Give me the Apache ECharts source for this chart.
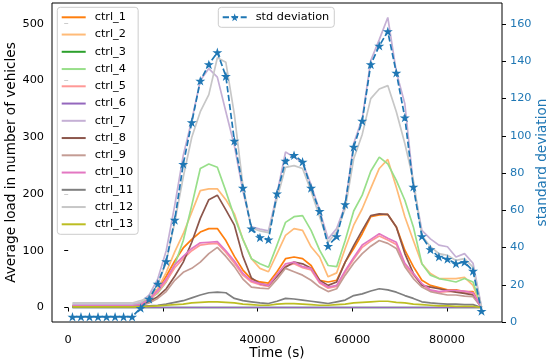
<!DOCTYPE html>
<html>
<head>
<meta charset="utf-8">
<script src="https://cdn.jsdelivr.net/npm/echarts@6/dist/echarts.min.js"></script>
<style>
html,body{margin:0;padding:0;background:#fff;}
#chart{width:550px;height:361px;}
</style>
</head>
<body>
<div id="chart"></div>
<script>
const times = [900, 2700, 4500, 6300, 8100, 9900, 11700, 13500, 15300, 17100, 18900, 20700, 22500, 24300, 26100, 27900, 29700, 31500, 33300, 35100, 36900, 38700, 40500, 42300, 44100, 45900, 47700, 49500, 51300, 53100, 54900, 56700, 58500, 60300, 62100, 63900, 65700, 67500, 69300, 71100, 72900, 74700, 76500, 78300, 80100, 81900, 83700, 85500, 87300];

const ctrl_1 = [2,2,2,2,2,2,2,2, 5,17,32,55,82,105,120,133,139,139, 118,90,66,50,45,43,63,86,89,86, 74,48,45,48,80,104,130,160,163,164, 142,101,72,48,39,35,31,31,28,28, 0];
const ctrl_2 = [4,4,4,4,4,4,4,4, 5,17,33,62,98,130,168,206,209,209, 190,165,120,86,69,63,95,127,139,136, 107,89,54,61,104,145,174,210,245,261, 212,160,118,77,60,51,51,51,53,39, 0];
const ctrl_3 = [0,0,0,0,0,0,0,0, 0,0,0,0,0,0,0,0,0,0, 0,0,0,0,0,0,0,0,0,0, 0,0,0,0,0,0,0,0,0,0, 0,0,0,0,0,0,0,0,0,0, 0];
const ctrl_4 = [4,4,4,4,4,4,4,4, 8,15,25,45,75,118,180,245,253,247, 205,160,120,86,77,71,110,150,160,162, 136,101,74,72,118,170,198,240,265,253, 224,189,142,77,57,51,48,45,51,45, 0];
const ctrl_5 = [3,3,3,3,3,3,3,3, 4,13,27,46,70,86,100,110,112,113, 97,78,57,45,40,37,55,73,77,70, 66,43,34,37,62,85,106,117,126,119, 111,75,57,40,30,27,28,28,27,24, 0];
const ctrl_6 = [0,0,0,0,0,0,0,0, 0,0,0,0,0,0,0,0,0,0, 0,0,0,0,0,0,0,0,0,0, 0,0,0,0,0,0,0,0,0,0, 0,0,0,0,0,0,0,0,0,0, 0];
const ctrl_7 = [6,6,6,6,6,6,6,6, 9,22,50,100,180,268,330,400,421,406, 345,285,205,142,138,135,200,274,265,256, 216,171,121,139,180,289,333,435,472,511, 415,359,216,136,121,110,107,89,95,78, 0];
const ctrl_8 = [2,2,2,2,2,2,2,2, 4,10,19,33,55,80,115,157,190,198, 172,145,90,52,42,39,55,71,80,77, 69,48,39,45,80,109,136,162,165,164, 142,95,60,39,36,33,30,27,25,22, 0];
const ctrl_9 = [2,2,2,2,2,2,2,2, 3,8,16,28,48,62,69,80,95,106, 90,72,50,36,34,33,50,69,63,57, 48,36,28,33,57,78,95,108,118,113, 104,72,51,36,28,25,22,22,20,19, 0];
const ctrl_10 = [3,3,3,3,3,3,3,3, 5,15,30,50,75,90,104,114,115,116, 100,82,60,47,42,39,58,77,80,72, 69,45,36,39,65,88,110,120,130,122, 115,78,60,42,31,28,30,30,29,26, 0];
const ctrl_11 = [1,1,1,1,1,1,1,1, 2,3,4,6,9,12,17,22,26,27, 26,16,12,10,8,7,11,16,15,13, 11,9,7,10,13,21,24,29,33,31, 27,21,16,10,8,7,6,6,5,5, 0];
const ctrl_12 = [8,8,8,8,8,8,8,8, 12,18,40,80,150,230,300,345,375,440, 432,340,215,140,135,132,192,247,250,245, 205,160,115,133,174,262,305,368,385,391, 345,289,224,127,107,95,92,83,86,71, 0];
const ctrl_13 = [1,1,1,1,1,1,1,1, 1,2,3,4,5,6,8,9,10,10, 9,8,6,5,4,4,6,7,7,6, 5,4,4,5,6,8,9,10,11,11, 9,8,6,5,4,3,3,2,2,2, 0];
const stdDev = [2.8,2.8,2.8,2.8,2.8,2.8,2.8,2.8, 7.5,12.4,20.5,32.6,54.8,84.8,107.2,129.5,138.3,144.8, 132,97.3,72,50.2,45.4,44.3,69,86.5,89.6,86, 72,59.5,40.8,46,63.2,94,108,138.3,148.3,156, 133.8,109.8,72.6,46,39,35,33.8,31.4,32.2,27.4, 5.9];

const seriesNames = ['ctrl_1','ctrl_2','ctrl_3','ctrl_4','ctrl_5','ctrl_6','ctrl_7','ctrl_8','ctrl_9','ctrl_10','ctrl_11','ctrl_12','ctrl_13'];
const seriesValues = [ctrl_1,ctrl_2,ctrl_3,ctrl_4,ctrl_5,ctrl_6,ctrl_7,ctrl_8,ctrl_9,ctrl_10,ctrl_11,ctrl_12,ctrl_13];
const seriesColors = ['#ff7f0e','#ffbb78','#2ca02c','#98df8a','#ff9896','#9467bd','#c5b0d5','#8c564b','#c49c94','#e377c2','#7f7f7f','#c7c7c7','#bcbd22'];
const xTicks = [0, 20000, 40000, 60000, 80000];
const yLeftTicks = [0, 100, 200, 300, 400, 500];
const yRightTicks = [0, 20, 40, 60, 80, 100, 120, 140, 160];

const FONT = 'DejaVu Sans';
const STAR = 'path://M50,0L61.23,34.55L97.55,34.55L68.17,55.9L79.39,90.45L50,69.1L20.61,90.45L31.83,55.9L2.45,34.55L38.77,34.55Z';

const pair = vals => times.map((t, i) => [t, vals[i]]);

const series = seriesNames.map((n, k) => ({
  name: n,
  type: 'line',
  xAxisIndex: 0,
  yAxisIndex: 0,
  data: pair(seriesValues[k]),
  symbol: 'none',
  color: seriesColors[k],
  lineStyle: { width: 1.7, color: seriesColors[k] },
  emphasis: { disabled: true },
  silent: true
}));
series.push({
  name: 'std deviation',
  type: 'line',
  xAxisIndex: 0,
  yAxisIndex: 1,
  data: pair(stdDev),
  symbol: STAR,
  symbolSize: 10,
  symbolKeepAspect: true,
  showSymbol: true,
  color: '#1f77b4',
  itemStyle: { color: '#1f77b4' },
  lineStyle: { width: 1.7, color: '#1f77b4', type: [6.3, 2.7] },
  emphasis: { disabled: true },
  silent: true
});

const legendBase = {
  orient: 'vertical',
  backgroundColor: 'rgba(255,255,255,0.8)',
  borderColor: '#cccccc',
  borderWidth: 1,
  borderRadius: 3,
  padding: [3, 5, 3, 3.4],
  itemWidth: 24,
  itemHeight: 10,
  itemGap: 3.25,
  selectedMode: false,
  textStyle: { fontFamily: FONT, fontSize: 11.3, color: '#000', lineHeight: 14, padding: [0, 0, 0, 4] }
};

const option = {
  animation: false,
  backgroundColor: '#fff',
  textStyle: { fontFamily: FONT },
  grid: { left: 52, right: 48, top: 3, bottom: 39, show: true, borderColor: '#000', borderWidth: 1, backgroundColor: 'transparent', containLabel: false, outerBoundsMode: 'none' },
  legend: [
    Object.assign({}, legendBase, { left: 57.3, top: 7.3, data: seriesNames, itemStyle: { opacity: 0 } }),
    Object.assign({}, legendBase, { left: 218.3, top: 7.3, data: ['std deviation'] })
  ],
  xAxis: {
    type: 'value', min: -3420, max: 91620,
    name: 'Time (s)', nameLocation: 'middle', nameGap: 24, nameMoveOverlap: false,
    nameTextStyle: { fontFamily: FONT, fontSize: 13.6, color: '#000' },
    axisLine: { show: false },
    splitLine: { show: false },
    axisTick: { show: true, length: 4, customValues: xTicks, lineStyle: { color: '#000', width: 1 } },
    axisLabel: { customValues: xTicks, margin: 13, fontFamily: FONT, fontSize: 11.3, color: '#000', formatter: v => String(v) }
  },
  yAxis: [
    {
      type: 'value', position: 'left', min: -25.55, max: 536.55,
      name: 'Average load in number of vehicles', nameLocation: 'middle', nameGap: 34, nameRotate: 90, nameMoveOverlap: false,
      nameTextStyle: { fontFamily: FONT, fontSize: 13.6, color: '#000' },
      axisLine: { show: false },
      splitLine: { show: false },
      axisTick: { show: true, length: 4, customValues: yLeftTicks, lineStyle: { color: '#000', width: 1 } },
      axisLabel: { customValues: yLeftTicks, margin: 8, fontFamily: FONT, fontSize: 11.3, color: '#000', formatter: v => String(v) }
    },
    {
      type: 'value', position: 'right', min: 0, max: 171.3,
      name: 'standard deviation', nameLocation: 'middle', nameGap: 33, nameRotate: 90, nameMoveOverlap: false,
      nameTextStyle: { fontFamily: FONT, fontSize: 13.6, color: '#1f77b4' },
      axisLine: { show: false },
      splitLine: { show: false },
      axisTick: { show: true, length: 4, customValues: yRightTicks, lineStyle: { color: '#000', width: 1 } },
      axisLabel: { customValues: yRightTicks, margin: 8, fontFamily: FONT, fontSize: 11.3, color: '#1f77b4', formatter: v => String(v) }
    }
  ],
  series: series
};

const chart = echarts.init(document.getElementById('chart'), null, { renderer: 'canvas' });
chart.setOption(option);
</script>
</body>
</html>
